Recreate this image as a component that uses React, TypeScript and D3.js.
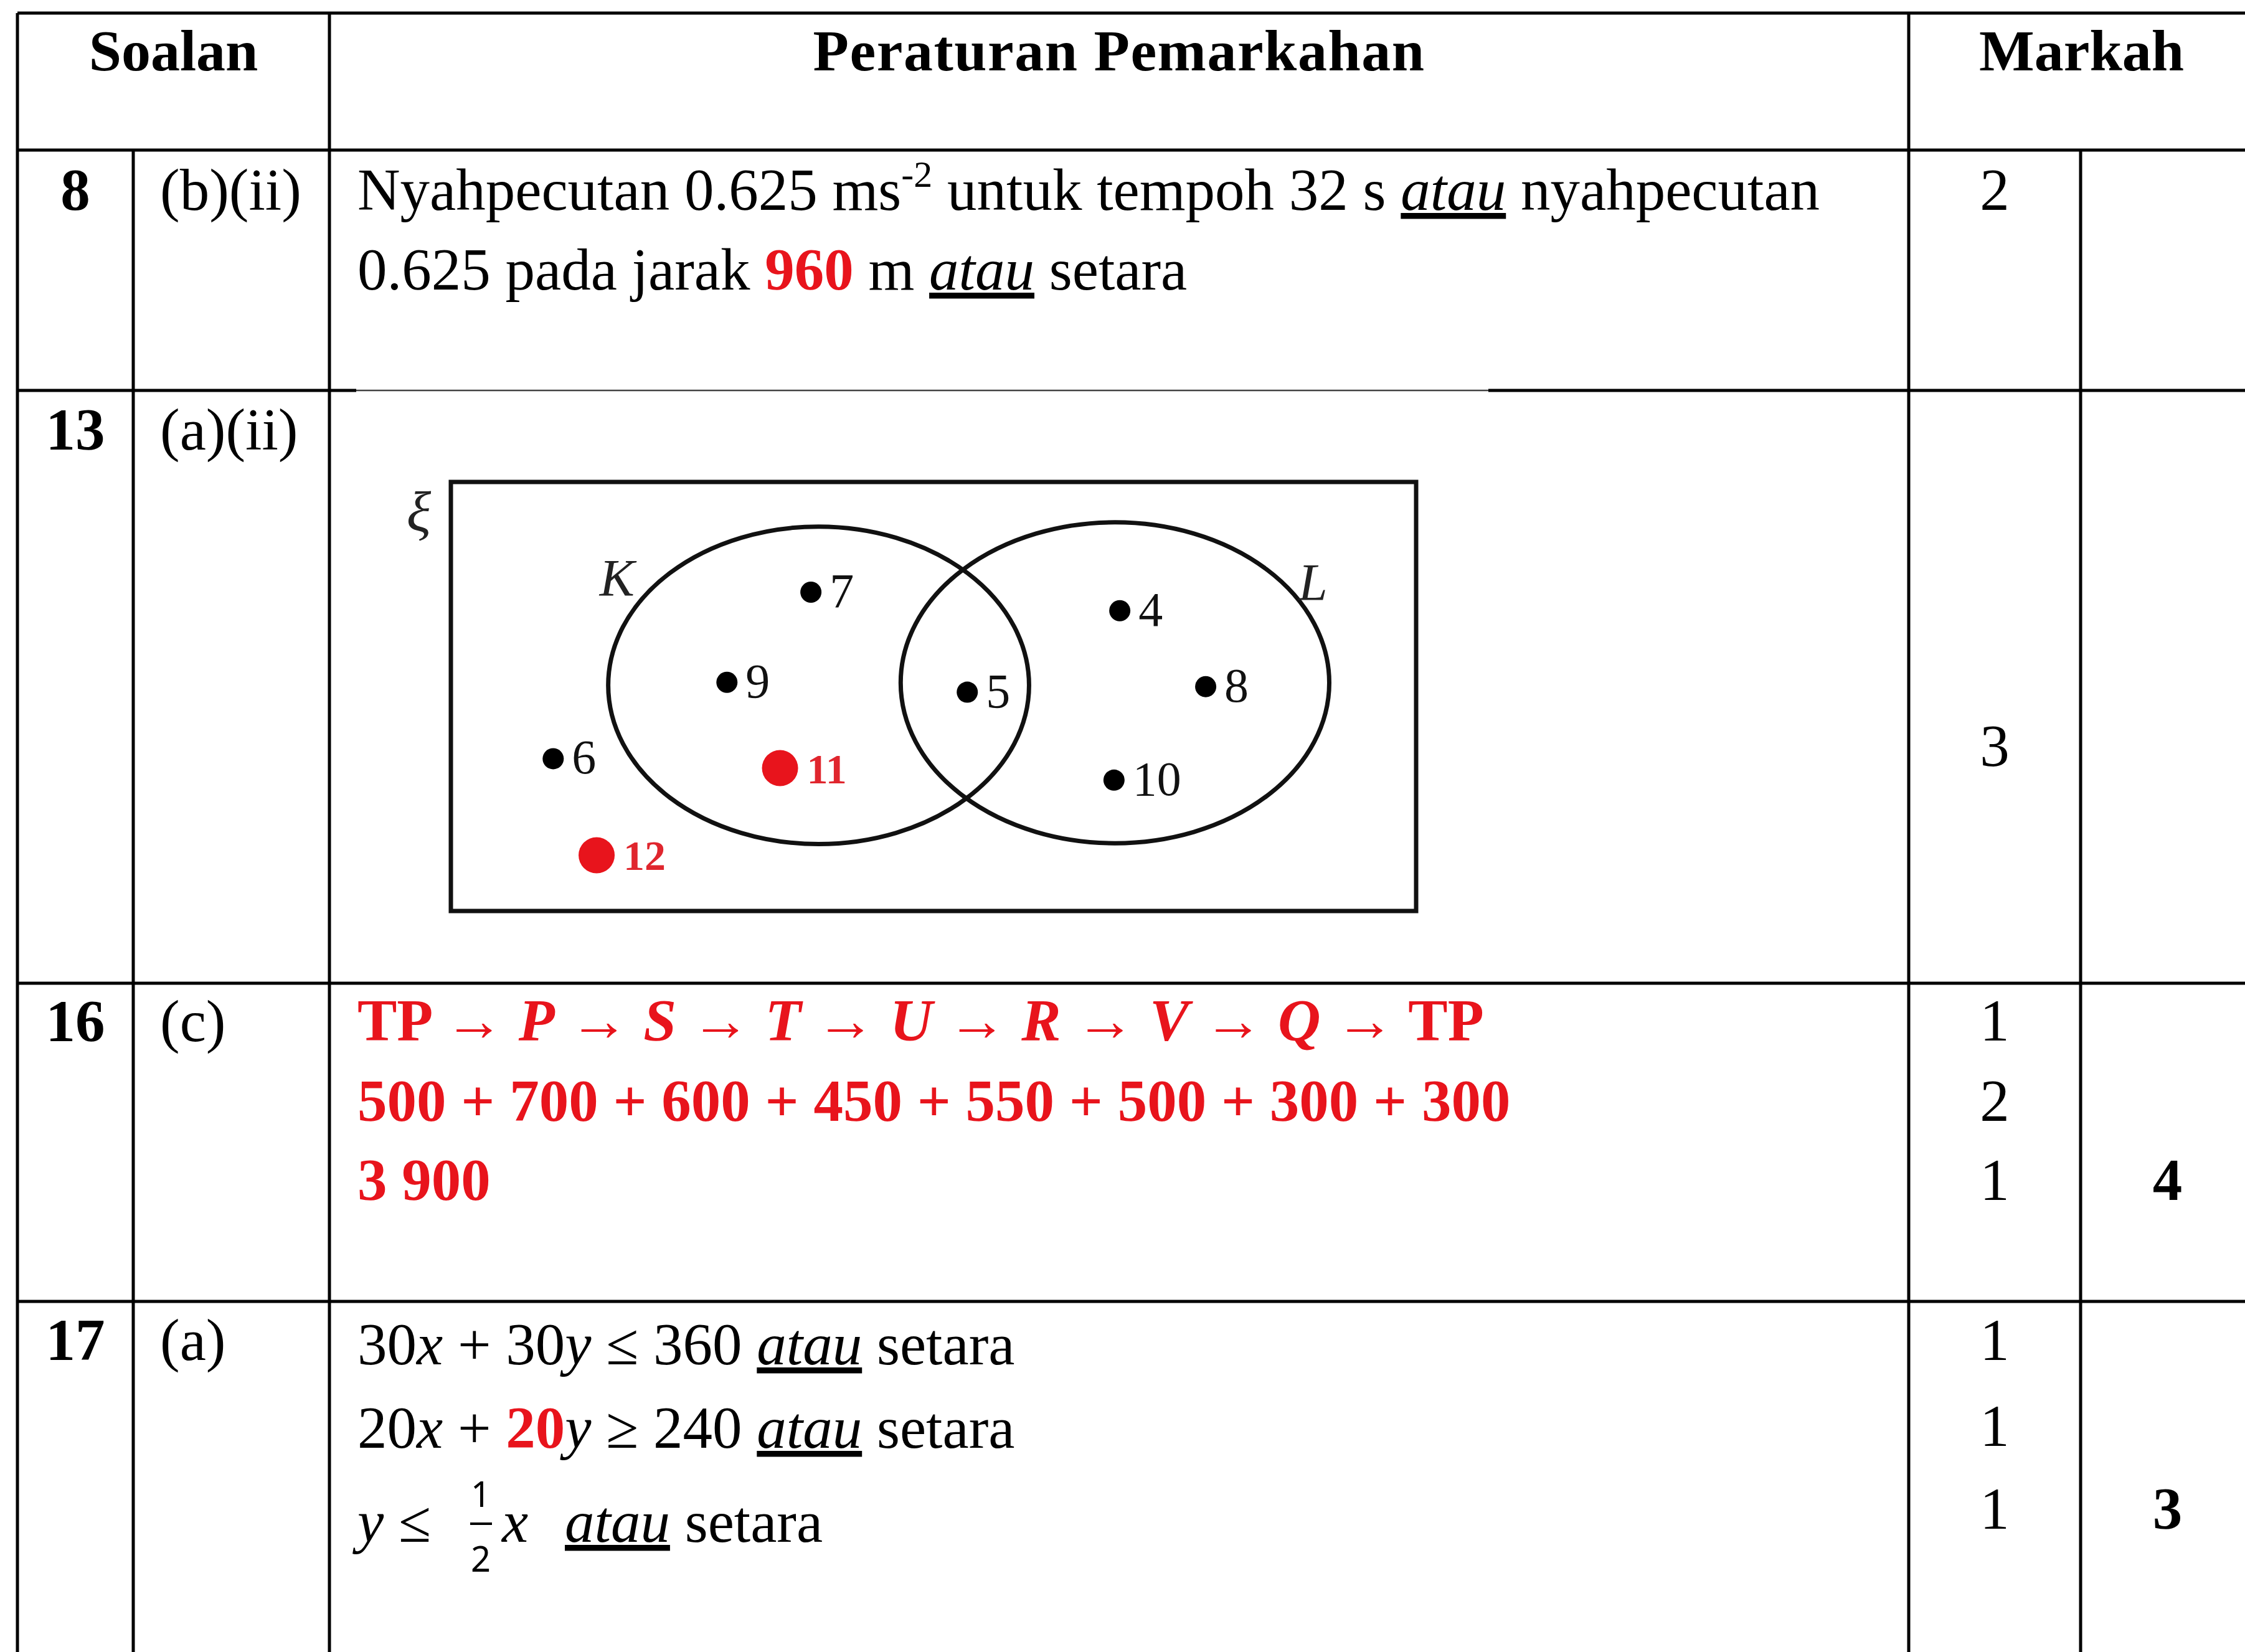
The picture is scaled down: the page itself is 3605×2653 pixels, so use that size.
import React from 'react';
import * as d3 from 'd3';

// ---- table content ----
const headers = ['Soalan', 'Peraturan Pemarkahan', 'Markah'];
const questions = ['8', '13', '16', '17'];
const parts = ['(b)(ii)', '(a)(ii)', '(c)', '(a)'];
const partMarks = [['2'], ['3'], ['1', '2', '1'], ['1', '1', '1']];
const totalMarks = ['', '', '4', '3'];

// rich text lines for the "Peraturan Pemarkahan" column
const row8Lines = [
  [
    { t: 'Nyahpecutan 0.625 ms' },
    { t: '-2', sup: true },
    { t: ' untuk tempoh 32 s ' },
    { t: 'atau', i: true, u: true },
    { t: ' nyahpecutan' },
  ],
  [
    { t: '0.625 pada jarak ' },
    { t: '960', b: true, red: true },
    { t: ' m ' },
    { t: 'atau', i: true, u: true },
    { t: ' setara' },
  ],
];

const route = ['TP', 'P', 'S', 'T', 'U', 'R', 'V', 'Q', 'TP'];
const distances = [500, 700, 600, 450, 550, 500, 300, 300];
const totalDistance = '3 900';

const row17Lines = [
  [
    { t: '30' }, { t: 'x', i: true }, { t: ' + 30' }, { t: 'y', i: true },
    { t: ' ≤ 360 ' }, { t: 'atau', i: true, u: true }, { t: ' setara' },
  ],
  [
    { t: '20' }, { t: 'x', i: true }, { t: ' + ' }, { t: '20', b: true, red: true },
    { t: 'y', i: true }, { t: ' ≥ 240 ' }, { t: 'atau', i: true, u: true }, { t: ' setara' },
  ],
];

// ---- venn diagram (positions in % of the universal set box) ----
const vennSets = [
  { name: 'K', cx: 38.1, cy: 47.4, rx: 21.8, ry: 37.0, lx: 15.4, ly: 26.6 },
  { name: 'L', cx: 68.8, cy: 46.8, rx: 22.2, ry: 37.4, lx: 87.8, ly: 27.6 },
];
const vennMembers = [
  { v: '7', x: 37.3, y: 25.7, red: false },
  { v: '9', x: 28.6, y: 46.7, red: false },
  { v: '5', x: 53.5, y: 49.0, red: false },
  { v: '4', x: 69.3, y: 30.0, red: false },
  { v: '8', x: 78.2, y: 47.7, red: false },
  { v: '10', x: 68.7, y: 69.5, red: false },
  { v: '6', x: 10.6, y: 64.5, red: false },
  { v: '11', x: 34.1, y: 66.7, red: true },
  { v: '12', x: 15.1, y: 87.0, red: true },
];

const W = 3605;
const H = 2653;
const RED = '#e8141c';
const FONT = '"Liberation Serif", "Times New Roman", serif';
const FS = 95;

const colX = [28, 214, 529, 3065, 3341, 3620];
const rowY = [21, 241, 627, 1579, 2090, 2720];

type Seg = { t: string; b?: boolean; i?: boolean; u?: boolean; red?: boolean; sup?: boolean };

const Rich = ({ x, y, segs }: { x: number; y: number; segs: Seg[] }) => {
  let shift = 0;
  return (
    <text x={x} y={y} fontFamily={FONT} fontSize={FS}>
      {segs.map((s, k) => {
        const target = s.sup ? -37 : 0;
        const dy = target - shift;
        shift = target;
        return (
          <tspan
            key={k}
            dy={dy || undefined}
            fontSize={s.sup ? 60 : undefined}
            fontWeight={s.b ? 'bold' : undefined}
            fontStyle={s.i ? 'italic' : undefined}
            fill={s.red ? RED : '#000'}
            style={s.u ? { textDecoration: 'underline' } : undefined}
          >
            {s.t}
          </tspan>
        );
      })}
    </text>
  );
};

const Venn = () => {
  const box = { x0: 724, x1: 2274, y0: 774, y1: 1463 };
  const sx = d3.scaleLinear().domain([0, 100]).range([box.x0, box.x1]);
  const sy = d3.scaleLinear().domain([0, 100]).range([box.y0, box.y1]);
  const kx = (box.x1 - box.x0) / 100;
  const ky = (box.y1 - box.y0) / 100;
  return (
    <g>
      <rect
        x={sx(0)}
        y={sy(0)}
        width={sx(100) - sx(0)}
        height={sy(100) - sy(0)}
        fill="none"
        stroke="#111"
        strokeWidth={7}
      />
      <text x={sx(-4.6)} y={sy(11.5)} fontFamily={FONT} fontStyle="italic" fontSize={92} fill="#222">
        ξ
      </text>
      {vennSets.map(s => (
        <g key={s.name}>
          <ellipse cx={sx(s.cx)} cy={sy(s.cy)} rx={s.rx * kx} ry={s.ry * ky} fill="none" stroke="#111" strokeWidth={7} />
          <text x={sx(s.lx)} y={sy(s.ly)} fontFamily={FONT} fontStyle="italic" fontSize={84} fill="#222">
            {s.name}
          </text>
        </g>
      ))}
      {vennMembers.map(m => {
        const r = m.red ? 29 : 17;
        return (
          <g key={m.v}>
            <circle cx={sx(m.x)} cy={sy(m.y)} r={r} fill={m.red ? RED : '#000'} />
            <text
              x={sx(m.x) + (m.red ? r + 14 : 30)}
              y={sy(m.y) + 24}
              fontFamily={FONT}
              fontSize={m.red ? 68 : 78}
              fontWeight={m.red ? 'bold' : undefined}
              fill={m.red ? '#e0262e' : '#111'}
            >
              {m.v}
            </text>
          </g>
        );
      })}
    </g>
  );
};

export default function App() {
  const textX = 574;
  const qBase = [337, 722, 1672, 2184];
  const midCol = (colX[3] + colX[4]) / 2;
  const lastCol = (colX[4] + colX[5]) / 2;
  const markBases = [[337], [1230], [1671, 1800, 1927], [2184, 2322, 2455]];

  const routeSegs: Seg[] = [];
  route.forEach((r, k) => {
    if (k > 0) routeSegs.push({ t: ' → ', b: true, red: true });
    routeSegs.push({ t: r, b: true, red: true, i: r !== 'TP' });
  });

  const hLine = (y: number, x0: number, x1: number, sw = 5, c = '#000') => (
    <line key={`h${y}-${x0}`} x1={x0} x2={x1} y1={y} y2={y} stroke={c} strokeWidth={sw} />
  );
  const vLine = (x: number, y0: number, y1: number) => (
    <line key={`v${x}-${y0}`} x1={x} x2={x} y1={y0} y2={y1} stroke="#000" strokeWidth={5} />
  );

  return (
    <svg
      width={W}
      height={H}
      viewBox={`0 0 ${W} ${H}`}
      style={{ position: 'absolute', left: 0, top: 0, background: '#fff' }}
    >
      <rect width={W} height={H} fill="#fff" />

      {/* grid */}
      {hLine(rowY[0], colX[0], W)}
      {hLine(rowY[1], colX[0], W)}
      {hLine(rowY[2], colX[0], 572)}
      {hLine(rowY[2], 572, 2390, 2.5, '#444')}
      {hLine(rowY[2], 2390, W)}
      {hLine(rowY[3], colX[0], W)}
      {hLine(rowY[4], colX[0], W)}
      {vLine(colX[0], rowY[0], H)}
      {vLine(colX[1], rowY[1], H)}
      {vLine(colX[2], rowY[0], H)}
      {vLine(colX[3], rowY[0], H)}
      {vLine(colX[4], rowY[1], H)}

      {/* header */}
      {headers.map((h, k) => {
        const cx = k === 0 ? (colX[0] + colX[2]) / 2 : k === 1 ? (colX[2] + colX[3]) / 2 : (colX[3] + colX[5]) / 2;
        return (
          <text key={h} x={cx} y={113} textAnchor="middle" fontFamily={FONT} fontWeight="bold" fontSize={94} letterSpacing={k === 1 ? 1.5 : 0}>
            {h}
          </text>
        );
      })}

      {/* question numbers and parts */}
      {questions.map((q, k) => (
        <g key={q}>
          <text x={(colX[0] + colX[1]) / 2} y={qBase[k]} textAnchor="middle" fontFamily={FONT} fontWeight="bold" fontSize={FS}>
            {q}
          </text>
          <text x={257} y={qBase[k]} fontFamily={FONT} fontSize={FS}>
            {parts[k]}
          </text>
        </g>
      ))}

      {/* marks */}
      {partMarks.map((ms, k) =>
        ms.map((m, j) => (
          <text key={`${k}-${j}`} x={midCol} y={markBases[k][j]} textAnchor="middle" fontFamily={FONT} fontSize={FS}>
            {m}
          </text>
        ))
      )}
      {totalMarks.map((t, k) =>
        t ? (
          <text key={`t${k}`} x={lastCol} y={markBases[k][markBases[k].length - 1]} textAnchor="middle" fontFamily={FONT} fontWeight="bold" fontSize={FS}>
            {t}
          </text>
        ) : null
      )}

      {/* row 8 */}
      <Rich x={textX} y={337} segs={row8Lines[0]} />
      <Rich x={textX} y={465} segs={row8Lines[1]} />

      {/* row 13 */}
      <Venn />

      {/* row 16 */}
      <Rich x={textX} y={1671} segs={routeSegs} />
      <Rich x={textX} y={1800} segs={[{ t: distances.join(' + '), b: true, red: true }]} />
      <Rich x={textX} y={1927} segs={[{ t: totalDistance, b: true, red: true }]} />

      {/* row 17 */}
      <Rich x={textX} y={2191} segs={row17Lines[0]} />
      <Rich x={textX} y={2325} segs={row17Lines[1]} />
      <text x={textX} y={2476} fontFamily={FONT} fontSize={FS}>
        <tspan fontStyle="italic">y</tspan>
        <tspan> ≤</tspan>
      </text>
      <text x={772} y={2420} textAnchor="middle" fontFamily='"Noto Sans", sans-serif' fontSize={56}>1</text>
      <line x1={755} x2={790} y1={2447} y2={2447} stroke="#000" strokeWidth={4} />
      <text x={772} y={2524} textAnchor="middle" fontFamily='"Noto Sans", sans-serif' fontSize={56}>2</text>
      <text x={806} y={2476} fontFamily={FONT} fontSize={FS} fontStyle="italic">x</text>
      <text x={907} y={2476} fontFamily={FONT} fontSize={FS}>
        <tspan fontStyle="italic" style={{ textDecoration: 'underline' }}>atau</tspan>
        <tspan> setara</tspan>
      </text>
    </svg>
  );
}
